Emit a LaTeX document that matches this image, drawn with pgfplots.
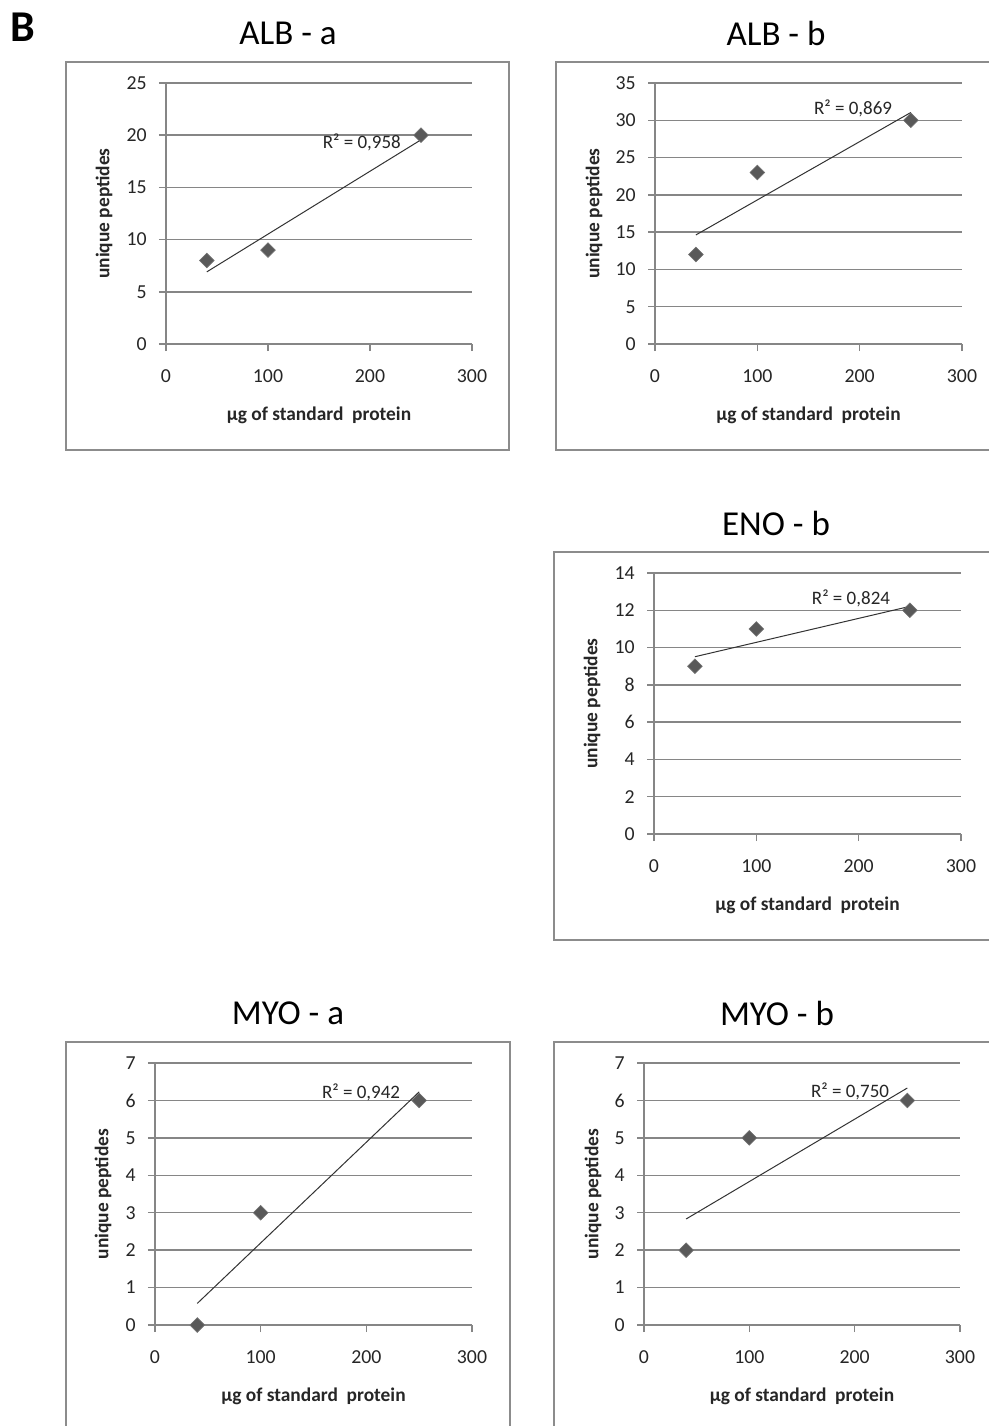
\documentclass[border=0pt]{standalone}
\usepackage{fontspec}
\setmainfont{Carlito}
\usepackage{pgfplots}
\pgfplotsset{compat=1.18}
\definecolor{gridgray}{RGB}{134,134,134}
\definecolor{framegray}{RGB}{140,140,140}
\definecolor{markgray}{RGB}{89,89,89}
\definecolor{textgray}{RGB}{38,38,38}
\pgfplotsset{
 excel/.style={
  scale only axis, anchor=south west,
  xmin=0, xmax=300, xtick={0,100,200,300}, ymin=0,
  axis x line*=bottom, axis y line*=left,
  axis line style={draw=gridgray, line width=0.75pt},
  ymajorgrids, grid style={draw=gridgray, line width=0.75pt},
  tick align=outside, major tick length=3.5pt,
  tick style={draw=gridgray, line width=0.75pt},
  tick label style={font=\fontsize{9.9}{11}\selectfont, text=textgray},
  /pgf/number format/assume math mode=true,
  xticklabel style={anchor=north, inner sep=0pt, yshift=-9.2pt},
  yticklabel style={anchor=east, inner sep=0pt, xshift=-6pt},
  label style={font=\bfseries\fontsize{9.7}{11}\selectfont, text=textgray},
  xlabel={µg of standard~ protein}, ylabel={unique peptides},
  clip=false,
 },
 pts/.style={only marks, mark=square*, mark size=2.6pt,
   mark options={rotate=45, fill=markgray, draw=markgray!85!white, line width=0.3pt}},
 trend/.style={draw=black!80, line width=0.5pt, no marks},
}
\tikzset{rsq/.style={font=\fontsize{9.5}{11}\selectfont, text=textgray, anchor=center}}
\begin{document}
\begin{tikzpicture}
\begin{scope}[x=0.5pt,y=-0.5pt]
\useasboundingbox (0,0) rectangle (989,1426);
\clip (0,0) rectangle (989,1426);
\fill[white] (0,0) rectangle (989,1426);
% frames
\draw[framegray, line width=0.75pt] (66,62) rectangle (509,450);
\draw[framegray, line width=0.75pt] (556,62) rectangle (1000,450);
\draw[framegray, line width=0.75pt] (554,552) rectangle (1000,940);
\draw[framegray, line width=0.75pt] (66,1042) rectangle (510,1440);
\draw[framegray, line width=0.75pt] (554,1042) rectangle (1000,1440);
% titles
\node[font=\bfseries\fontsize{22}{24}\selectfont] at (22.5,27) {B};
\node[font=\fontsize{17.5}{20}\selectfont] at (288,33) {ALB - a};
\node[font=\fontsize{17.5}{20}\selectfont] at (776,33) {ALB - b};
\node[font=\fontsize{17.5}{20}\selectfont] at (776,523) {ENO - b};
\node[font=\fontsize{17.5}{20}\selectfont] at (288,1013) {MYO - a};
\node[font=\fontsize{17.5}{20}\selectfont] at (777,1013) {MYO - b};
\end{scope}
% ALB - a
\begin{axis}[excel, at={(83pt,-172pt)}, width=153pt, height=130.5pt,
  ymax=25, ytick={0,5,...,25},
  ylabel style={at={(axis description cs:-0.2026,0.5)}, anchor=center},
  xlabel style={at={(axis description cs:0.5,-0.272)}, anchor=center}]
\addplot[pts] coordinates {(40,8) (100,9) (250,20)};
\addplot[trend] coordinates {(40,6.91) (250,19.56)};
\node[rsq] at (axis cs:192,19.35) {R² = 0,958};
\end{axis}
% ALB - b
\begin{axis}[excel, at={(327.5pt,-172pt)}, width=153.5pt, height=130.5pt,
  ymax=35, ytick={0,5,...,35},
  ylabel style={at={(axis description cs:-0.1987,0.5)}, anchor=center},
  xlabel style={at={(axis description cs:0.5,-0.272)}, anchor=center}]
\addplot[pts] coordinates {(40,12) (100,23) (250,30)};
\addplot[trend] coordinates {(40,14.63) (250,31.05)};
\node[rsq] at (axis cs:193.5,31.65) {R² = 0,869};
\end{axis}
% ENO - b
\begin{axis}[excel, at={(327pt,-417pt)}, width=153.5pt, height=130.5pt,
  ymax=14, ytick={0,2,...,14},
  ylabel style={at={(axis description cs:-0.202,0.5)}, anchor=center},
  xlabel style={at={(axis description cs:0.5,-0.272)}, anchor=center}]
\addplot[pts] coordinates {(40,9) (100,11) (250,12)};
\addplot[trend] coordinates {(40,9.51) (250,12.21)};
\node[rsq] at (axis cs:192.5,12.66) {R² = 0,824};
\end{axis}
% MYO - a
\begin{axis}[excel, at={(77.5pt,-662.5pt)}, width=158.5pt, height=131pt,
  ymax=7, ytick={0,1,...,7},
  ylabel style={at={(axis description cs:-0.164,0.5)}, anchor=center},
  xlabel style={at={(axis description cs:0.5,-0.271)}, anchor=center}]
\addplot[pts] coordinates {(40,0) (100,3) (250,6)};
\addplot[trend] coordinates {(40,0.577) (250,6.23)};
\node[rsq] at (axis cs:195,6.22) {R² = 0,942};
\end{axis}
% MYO - b
\begin{axis}[excel, at={(322pt,-662.5pt)}, width=158pt, height=131pt,
  ymax=7, ytick={0,1,...,7},
  ylabel style={at={(axis description cs:-0.161,0.5)}, anchor=center},
  xlabel style={at={(axis description cs:0.5,-0.271)}, anchor=center}]
\addplot[pts] coordinates {(40,2) (100,5) (250,6)};
\addplot[trend] coordinates {(40,2.833) (250,6.333)};
\node[rsq] at (axis cs:195.6,6.25) {R² = 0,750};
\end{axis}
\end{tikzpicture}
\end{document}
